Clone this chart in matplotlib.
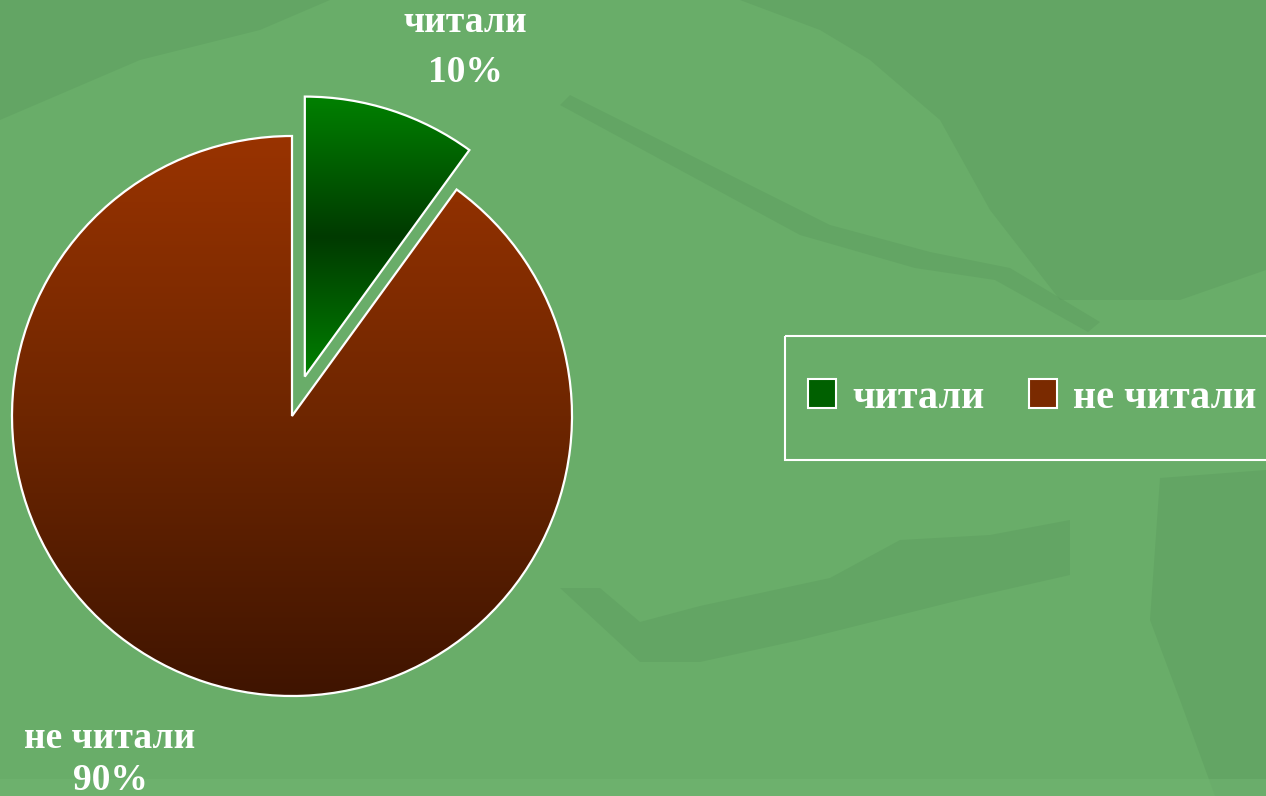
import numpy as np
import matplotlib
matplotlib.use('Agg')
import matplotlib.pyplot as plt
from matplotlib.colors import LinearSegmentedColormap
from matplotlib.patches import PathPatch, Patch, Polygon, Rectangle

labels = ['читали', 'не читали']
values = [10, 90]
explode = [0.148, 0]
base_colors = ['#006000', '#7a2a00']
# gradients top -> bottom
grads = [['#008000', '#003a00', '#008000'],
         ['#993300', '#6e2600', '#3f1400']]

bg = '#69ad69'
plt.rcParams['font.family'] = ['Liberation Serif', 'DejaVu Serif']

W, H = 1266, 796
cx, cy, R = 292, 380, 280   # pie centre / radius in pixels

fig = plt.figure(figsize=(W / 100, H / 100), dpi=100)
fig.patch.set_facecolor(bg)

# faint leaf texture in the background (pixel coords, y from top)
leaves = [
    [(740, 0), (1266, 0), (1266, 270), (1180, 300), (1060, 300), (990, 210), (940, 120), (870, 60), (820, 30)],
    [(570, 95), (830, 225), (930, 252), (1010, 268), (1100, 322), (1088, 332), (995, 280), (915, 268), (800, 235), (560, 105)],
    [(560, 588), (600, 588), (640, 622), (700, 606), (830, 578), (900, 540), (990, 535), (1070, 520), (1070, 575), (960, 600), (800, 640), (700, 662), (640, 662)],
    [(1160, 478), (1266, 470), (1266, 796), (1215, 796), (1180, 700), (1150, 620)],
    [(0, 120), (140, 60), (260, 30), (330, 0), (0, 0)],
]
bgax = fig.add_axes([0, 0, 1, 1], zorder=0)
bgax.set_xlim(0, W)
bgax.set_ylim(H, 0)
bgax.axis('off')
for pts in leaves:
    bgax.add_patch(Polygon(pts, closed=True, facecolor='#5c9c5e', edgecolor='none', alpha=0.45))
bgax.add_patch(Rectangle((0, 779), W, 17, facecolor='#70b470', edgecolor='none', alpha=0.6))

ax = fig.add_axes([0, 0, 1, 1], zorder=1)
ax.patch.set_visible(False)

wedges, _ = ax.pie(values, explode=explode, colors=base_colors, startangle=90,
                   counterclock=False, wedgeprops=dict(linewidth=0))
ax.set_xlim(-cx / R, (W - cx) / R)
ax.set_ylim(-cy / R, (H - cy) / R)
ax.axis('off')

# vertical gradient fill clipped to each wedge
for w, g in zip(wedges, grads):
    bb = w.get_path().get_extents(w.get_transform() + ax.transData.inverted())
    cmap = LinearSegmentedColormap.from_list('g', g[::-1])
    grad = np.linspace(0, 1, 256).reshape(-1, 1)
    im = ax.imshow(grad, cmap=cmap, origin='lower', aspect='auto',
                   extent=[bb.x0, bb.x1, bb.y0, bb.y1], zorder=2)
    im.set_clip_path(w)
    ax.add_patch(PathPatch(w.get_path(), transform=w.get_transform(), fill=False,
                           edgecolor='white', linewidth=1.6, zorder=3))

ax.set_xlim(-cx / R, (W - cx) / R)
ax.set_ylim(-cy / R, (H - cy) / R)

tkw = dict(color='white', fontsize=27, fontweight='bold', ha='center', va='center', zorder=5)
fig.text(465 / W, 1 - 22 / H, labels[0], **tkw)
fig.text(465 / W, 1 - 72 / H, f'{values[0]}%', **tkw)
fig.text(110 / W, 1 - 738 / H, labels[1], **tkw)
fig.text(110 / W, 1 - 781 / H, f'{values[1]}%', **tkw)

# legend box
bgax.add_patch(Rectangle((785, 336), 520, 124, facecolor='none', edgecolor='white', linewidth=1.5))
handles = [Patch(facecolor=c, edgecolor='white', linewidth=1.5) for c in base_colors]
leg = ax.legend(handles, labels, ncol=2, loc='center left',
                bbox_to_anchor=(808 / W, 1 - 398 / H), frameon=False,
                prop=dict(size=29, weight='bold'), labelcolor='white',
                handlelength=0.7, handleheight=0.7, handletextpad=0.4,
                columnspacing=1.1, borderpad=0, borderaxespad=0)

fig.savefig('out.png', dpi=100, facecolor=bg)
